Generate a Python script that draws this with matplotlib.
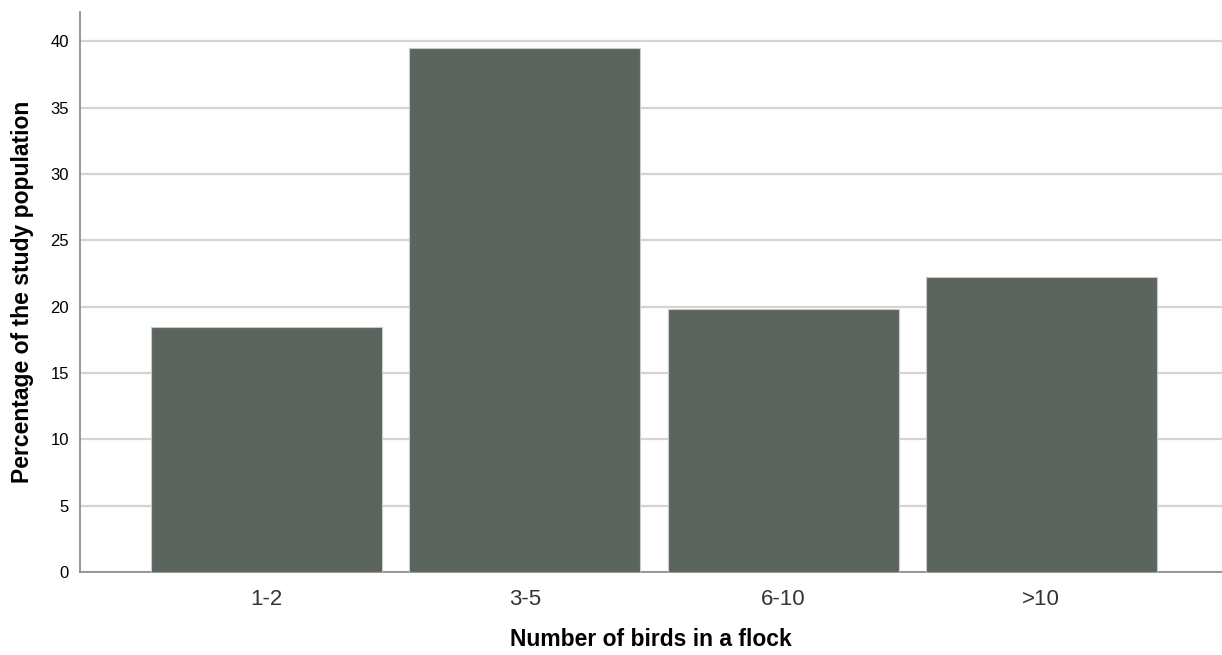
import matplotlib.pyplot as plt

plt.rcParams['font.family'] = ['Liberation Sans', 'DejaVu Sans']

categorias = ['1-2', '3-5', '6-10', '>10']
percentuais = [18.5, 39.5, 19.8, 22.2]
yticks = [0, 5, 10, 15, 20, 25, 30, 35, 40]

fig = plt.figure(figsize=(12.22, 6.55), dpi=100)
ax = fig.add_axes([0.0655, 0.1267, 0.9345, 0.855])

ax.bar(range(len(categorias)), percentuais, width=0.895,
       color='#5b645d', edgecolor='#c8ccc8', linewidth=0.8, zorder=3)

ax.set_xlim(-0.723, 3.70)
ax.set_ylim(0, 42.2)
ax.set_yticks(yticks)
ax.set_xticks(range(len(categorias)))
ax.set_xticklabels(categorias, fontsize=16, color='#333333')
ax.tick_params(axis='y', length=0, pad=8, labelsize=12)
ax.tick_params(axis='x', length=0, pad=12)
ax.grid(axis='y', color='#d4d4d4', linewidth=1.6, zorder=0)

for s in ['top', 'right']:
    ax.spines[s].set_visible(False)
for s in ['left', 'bottom']:
    ax.spines[s].set_color('#888888')
    ax.spines[s].set_linewidth(1.2)

ax.set_xlabel("Number of birds in a flock", fontsize=16.5, fontweight='bold', labelpad=13)
ax.set_ylabel("Percentage of the study population", fontsize=16.5, fontweight='bold', labelpad=12)

plt.savefig('out.png', dpi=100)
